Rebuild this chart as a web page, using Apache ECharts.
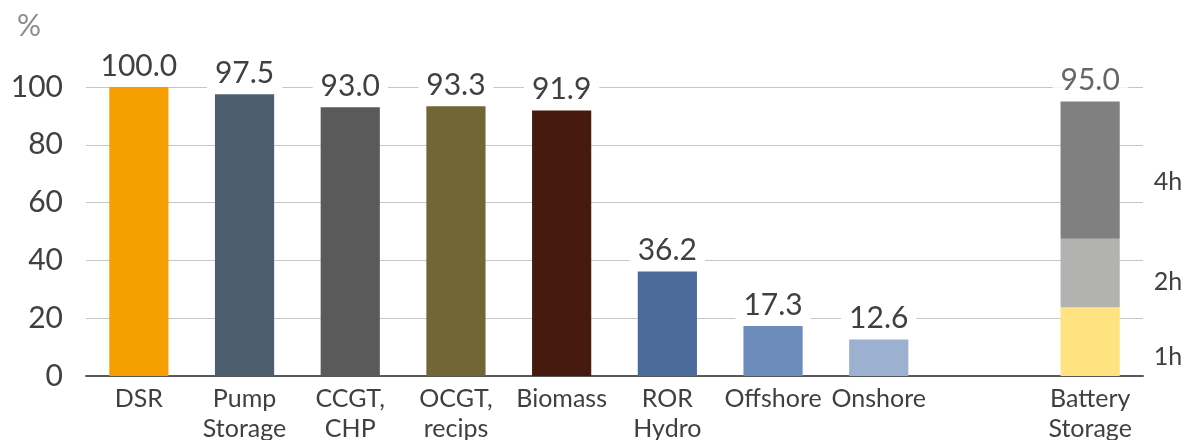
<!DOCTYPE html>
<html>
<head>
<meta charset="utf-8">
<script src="https://cdn.jsdelivr.net/npm/echarts@6/dist/echarts.min.js"></script>
<style>
  html, body { margin: 0; padding: 0; background: #fff; }
  #chart { width: 1185px; height: 440px; }
</style>
</head>
<body>
<div id="chart"></div>
<script>
// Technology categories (empty slot separates battery storage)
const categories = ['DSR', 'Pump\nStorage', 'CCGT,\nCHP', 'OCGT,\nrecips', 'Biomass',
  'ROR\nHydro', 'Offshore', 'Onshore', '', 'Battery\nStorage'];
const techValues = [100.0, 97.5, 93.0, 93.3, 91.9, 36.2, 17.3, 12.6];
const techColors = ['#F59F00', '#4D5F6E', '#5A5A5A', '#716635', '#461A0F',
  '#4A6A9B', '#6C8DBB', '#9CB0D0'];

// Battery storage, stacked by duration
const batteryHours = ['1h', '2h', '4h'];
const batteryValues = [23.75, 23.75, 47.5];
const batteryColors = ['#FFE381', '#B2B2B0', '#808080'];
const batteryLabelOffsets = [15, 9, 12];

const yTicks = { min: 0, max: 100, interval: 20 };

const FONT = 'Lato';
const TEXT = '#404040';
const batteryIndex = categories.length - 1;

const techData = categories.map((c, i) =>
  i < techValues.length ? { value: techValues[i], itemStyle: { color: techColors[i] } } : '-');

const valueLabel = {
  show: true,
  position: 'top',
  distance: 6,
  fontFamily: FONT,
  fontSize: 30,
  color: TEXT,
  backgroundColor: '#fff',
  padding: [0, 8, 0, 8],
  formatter: p => p.value.toFixed(1)
};

const series = [{
  name: 'tech',
  type: 'bar',
  stack: 'all',
  barCategoryGap: '44%',
  data: techData,
  label: valueLabel
}];

batteryHours.forEach((h, k) => {
  series.push({
    name: h,
    type: 'bar',
    stack: 'all',
    barCategoryGap: '44%',
    itemStyle: { color: batteryColors[k] },
    data: categories.map((c, i) => i === batteryIndex ? batteryValues[k] : '-'),
    label: {
      show: true,
      position: 'right',
      distance: 34,
      offset: [0, batteryLabelOffsets[k]],
      fontFamily: FONT,
      fontSize: 25,
      color: TEXT,
      formatter: () => h
    }
  });
});

// Total on top of the battery stack
const batteryTotal = batteryValues.reduce((a, b) => a + b, 0);
series.push({
  name: 'total',
  type: 'scatter',
  symbolSize: 1,
  itemStyle: { color: 'rgba(0,0,0,0)' },
  data: categories.map((c, i) => i === batteryIndex ? batteryTotal : '-'),
  label: valueLabel,
  z: 5
});

const chart = echarts.init(document.getElementById('chart'));
chart.setOption({
  animation: false,
  title: {
    text: '%',
    left: 12,
    top: 6,
    textStyle: { fontFamily: FONT, fontSize: 30, fontWeight: 'normal', color: '#8C8C8C' }
  },
  grid: { left: 86, right: 42, top: 87, bottom: 64, outerBoundsMode: 'none' },
  xAxis: {
    type: 'category',
    data: categories,
    axisTick: { show: false },
    axisLine: { lineStyle: { color: '#595959', width: 2 } },
    axisLabel: {
      interval: 0,
      margin: 8,
      fontFamily: FONT,
      fontSize: 25,
      lineHeight: 30,
      color: TEXT
    }
  },
  yAxis: {
    type: 'value',
    min: yTicks.min,
    max: yTicks.max,
    interval: yTicks.interval,
    axisLine: { show: false },
    axisTick: { show: false },
    splitLine: { lineStyle: { color: '#C6C6C6', width: 1 } },
    axisLabel: {
      margin: 23,
      fontFamily: FONT,
      fontSize: 30,
      color: TEXT
    }
  },
  series: series
});
</script>
</body>
</html>
